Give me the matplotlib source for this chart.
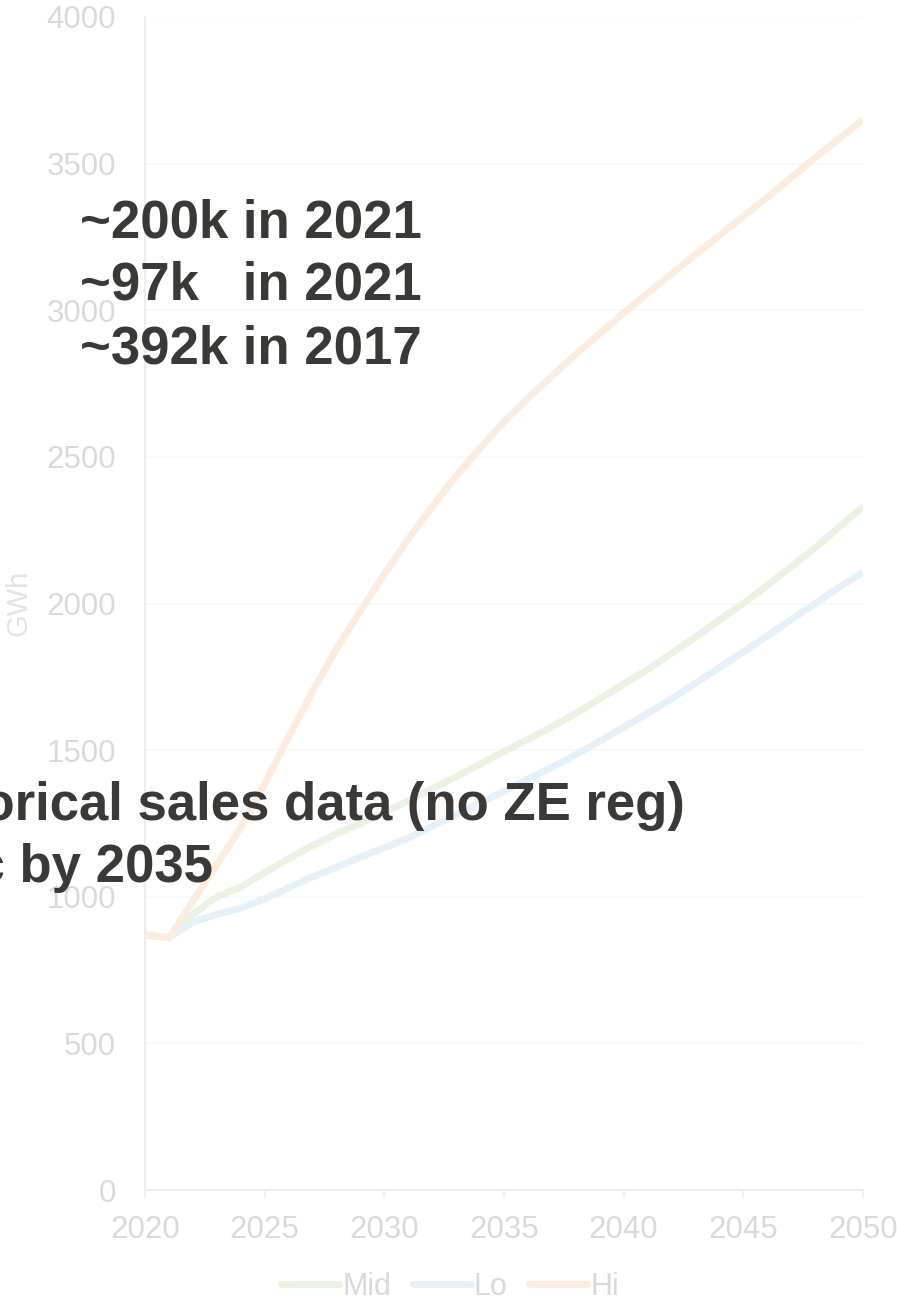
import matplotlib
matplotlib.use("Agg")
import matplotlib.pyplot as plt

plt.rcParams['font.family'] = ['Liberation Sans', 'DejaVu Sans']

years = list(range(2020, 2051))

mid = [870, 860, 940, 1000, 1033, 1083, 1130, 1175, 1215, 1250, 1287,
       1327, 1368, 1410, 1452, 1495, 1537, 1580, 1625, 1675, 1725,
       1775, 1830, 1885, 1944, 2000, 2062, 2125, 2190, 2260, 2330]
lo = [870, 860, 914, 940, 961, 993, 1030, 1068, 1100, 1135, 1167,
      1200, 1240, 1280, 1320, 1360, 1402, 1442, 1485, 1530, 1578,
      1625, 1675, 1728, 1782, 1835, 1890, 1945, 2000, 2055, 2107]
hi = [870, 860, 985, 1110, 1235, 1385, 1545, 1700, 1845, 1975, 2100,
      2220, 2330, 2435, 2530, 2620, 2700, 2775, 2850, 2920, 2990,
      3058, 3124, 3190, 3255, 3320, 3385, 3452, 3520, 3585, 3650]

series_names = ["Mid", "Lo", "Hi"]
series_colors = ["#EAF3E3", "#E6F0F9", "#FCECE0"]

y_ticks = [0, 500, 1000, 1500, 2000, 2500, 3000, 3500, 4000]
x_ticks = [2020, 2025, 2030, 2035, 2040, 2045, 2050]

notes_top = ["~200k in 2021", "~97k   in 2021", "~392k in 2017"]
notes_mid = ["Historical sales data (no ZE reg)", "100% electric by 2035"]

W, H = 897, 1303
fig = plt.figure(figsize=(W / 100, H / 100), dpi=100)
ax = fig.add_axes([145 / W, 1 - 1190 / H, (863 - 145) / W, (1190 - 17) / H])

for vals, name, col in zip([mid, lo, hi], series_names, series_colors):
    ax.plot(years, vals, color=col, lw=5, label=name, solid_capstyle='butt',
            solid_joinstyle='round')

ax.set_xlim(2020, 2050)
ax.set_ylim(0, 4000)
ax.set_xticks(x_ticks)
ax.set_yticks(y_ticks)

tick_col = "#D9D9D9"
ax.tick_params(axis='y', length=0, pad=21, labelsize=22.5, labelcolor=tick_col)
ax.tick_params(axis='x', length=6, width=1.2, color="#EDEDED", pad=12,
               labelsize=22.5, labelcolor=tick_col)
ax.grid(axis='y', color="#F8F8F8", lw=1.2)
ax.set_axisbelow(True)
for side in ("top", "right"):
    ax.spines[side].set_visible(False)
for side in ("left", "bottom"):
    ax.spines[side].set_color("#EDEDED")
    ax.spines[side].set_linewidth(1.5)

ax.set_ylabel("GWh", color="#E3E3E3", fontsize=21, labelpad=6)
ax.yaxis.set_label_coords(-112 / (863 - 145), (1190 - 603) / (1190 - 17))

leg = fig.legend(loc='center', bbox_to_anchor=(450 / W, 1 - 1287 / H), ncol=3,
                 frameon=False, fontsize=22, handlelength=1.9, handletextpad=0.1,
                 columnspacing=0.7, labelcolor=tick_col)
for h in leg.get_lines():
    h.set_linewidth(5)
    h.set_solid_capstyle('round')

note_col = "#3B3838"
for i, s in enumerate(notes_top):
    fig.text(80 / W, 1 - (237 + 63 * i) / H, s, fontsize=38, fontweight='bold',
             color=note_col, ha='left', va='baseline')

fig.text(685 / W, 1 - 820 / H, notes_mid[0], fontsize=38, fontweight='bold',
         color=note_col, ha='right', va='baseline')
fig.text(213 / W, 1 - 882 / H, notes_mid[1], fontsize=38, fontweight='bold',
         color=note_col, ha='right', va='baseline')

fig.savefig("out.png", dpi=100)
